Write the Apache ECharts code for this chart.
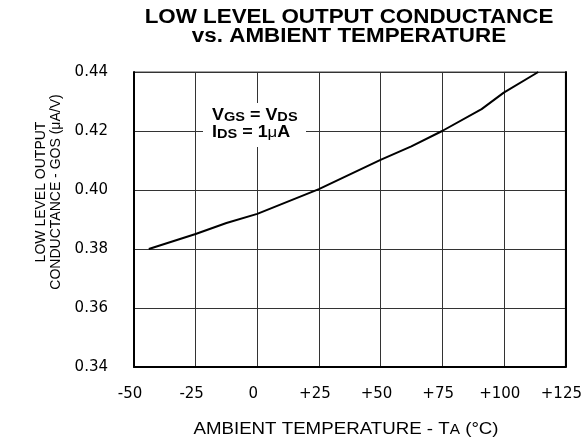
<!DOCTYPE html>
<html>
<head>
<meta charset="utf-8">
<script src="https://cdn.jsdelivr.net/npm/echarts@6/dist/echarts.min.js"></script>
<style>
html,body{margin:0;padding:0;background:#fff;}
#chart{width:585px;height:447px;}
</style>
</head>
<body>
<div id="chart"></div>
<script>
// Data
var temperatures = [-44, -25, -12.5, 0, 25, 50, 62.5, 75, 91, 100, 114];
var conductance = [0.380, 0.3851, 0.3888, 0.3919, 0.4003, 0.4102, 0.4148, 0.420, 0.4274, 0.4330, 0.440];
var xTicks = [-50, -25, 0, 25, 50, 75, 100, 125];
var yTicks = [0.34, 0.36, 0.38, 0.40, 0.42, 0.44];

var titleLines = ['LOW LEVEL OUTPUT CONDUCTANCE', 'vs. AMBIENT TEMPERATURE'];
var yTitleLines = ['LOW LEVEL OUTPUT', 'CONDUCTANCE - GOS (\u03BCA/V)'];

var TICKFONT = '"DejaVu Sans", "Liberation Sans", Arial, sans-serif';
var FONT = '"Liberation Sans", Arial, Helvetica, sans-serif';

var chart = echarts.init(document.getElementById('chart'), null, {renderer: 'canvas'});

var points = temperatures.map(function (t, i) { return [t, conductance[i]]; });

var yMin = yTicks[0], yMax = yTicks[yTicks.length - 1];

option = {
  animation: false,
  backgroundColor: '#fff',
  grid: {
    left: 134,
    top: 72,
    right: 16,
    bottom: 80,
    show: true,
    borderColor: '#444',
    borderWidth: 1,
    containLabel: false
  },
  xAxis: {
    type: 'value',
    min: xTicks[0],
    max: xTicks[xTicks.length - 1],
    interval: 25,
    axisLine: {show: true, onZero: false, lineStyle: {color: '#000', width: 2}},
    axisTick: {show: false},
    splitLine: {show: true, lineStyle: {color: '#333', width: 1}},
    axisLabel: {
      margin: 20,
      color: '#000',
      fontFamily: TICKFONT,
      fontSize: 15,
      padding: [0, 8, 0, 0],
      formatter: function (v) { return v > 0 ? '+' + v : String(v); }
    }
  },
  yAxis: [
    {
      type: 'value',
      min: yMin,
      max: yMax,
      interval: 0.02,
      axisLine: {show: true, onZero: false, lineStyle: {color: '#000', width: 2}},
      axisTick: {show: false},
      splitLine: {show: true, lineStyle: {color: '#333', width: 1}},
      axisLabel: {
        margin: 26,
        color: '#000',
        fontFamily: TICKFONT,
        fontSize: 15,
        formatter: function (v) { return v.toFixed(2); }
      }
    },
    {
      type: 'value',
      position: 'right',
      min: yMin,
      max: yMax,
      interval: 0.02,
      axisLine: {show: true, onZero: false, lineStyle: {color: '#000', width: 2}},
      axisTick: {show: false},
      axisLabel: {show: false},
      splitLine: {show: false}
    }
  ],
  graphic: [
    {
      type: 'text',
      x: 349,
      y: 27,
      scaleX: 1.148,
      z: 11,
      style: {
        text: titleLines.join('\n'),
        fill: '#000',
        align: 'center',
        verticalAlign: 'middle',
        font: 'bold 19.5px ' + FONT,
        lineHeight: 19.5
      }
    },
    {
      type: 'rect',
      shape: {x: 203, y: 103, width: 103, height: 44},
      style: {fill: '#fff'},
      z: 10
    },
    {
      type: 'text',
      x: 212,
      y: 108,
      scaleX: 1.12,
      z: 11,
      style: {
        text: '{m|V}{s|GS}{m| = V}{s|DS}',
        fill: '#000',
        rich: {
          m: {fontFamily: FONT, fontWeight: 'bold', fontSize: 16, lineHeight: 16, verticalAlign: 'top'},
          s: {fontFamily: FONT, fontWeight: 'bold', fontSize: 13, lineHeight: 13, padding: [4, 0, 0, 0], verticalAlign: 'bottom'}
        }
      }
    },
    {
      type: 'text',
      x: 212,
      y: 125,
      scaleX: 1.12,
      z: 11,
      style: {
        text: '{m|I}{s|DS}{m| = 1}{u|\u03BC}{m|A}',
        fill: '#000',
        rich: {
          m: {fontFamily: FONT, fontWeight: 'bold', fontSize: 16, lineHeight: 16, verticalAlign: 'top'},
          s: {fontFamily: FONT, fontWeight: 'bold', fontSize: 13, lineHeight: 13, padding: [4, 0, 0, 0], verticalAlign: 'bottom'},
          u: {fontFamily: FONT, fontWeight: 'normal', fontSize: 15, lineHeight: 16, verticalAlign: 'top'}
        }
      }
    },
    {
      type: 'text',
      x: 346,
      y: 429,
      scaleX: 1.1,
      z: 11,
      style: {
        text: '{m|AMBIENT TEMPERATURE - T}{s|A}{m| (\u00B0C)}',
        fill: '#000',
        align: 'center',
        verticalAlign: 'middle',
        rich: {
          m: {fontFamily: FONT, fontSize: 17, lineHeight: 17, verticalAlign: 'top'},
          s: {fontFamily: FONT, fontSize: 14, lineHeight: 14, padding: [4, 0, 0, 0], verticalAlign: 'bottom'}
        }
      }
    },
    {
      type: 'text',
      x: 48,
      y: 192,
      rotation: Math.PI / 2,
      scaleY: 1.1,
      z: 11,
      style: {
        text: yTitleLines.join('\n'),
        fill: '#000',
        align: 'center',
        verticalAlign: 'middle',
        font: '14px ' + FONT,
        lineHeight: 14
      }
    }
  ],
  series: [
    {
      type: 'line',
      data: points,
      yAxisIndex: 0,
      showSymbol: false,
      smooth: false,
      lineStyle: {color: '#000', width: 2},
      z: 5
    }
  ]
};

chart.setOption(option);
</script>
</body>
</html>
